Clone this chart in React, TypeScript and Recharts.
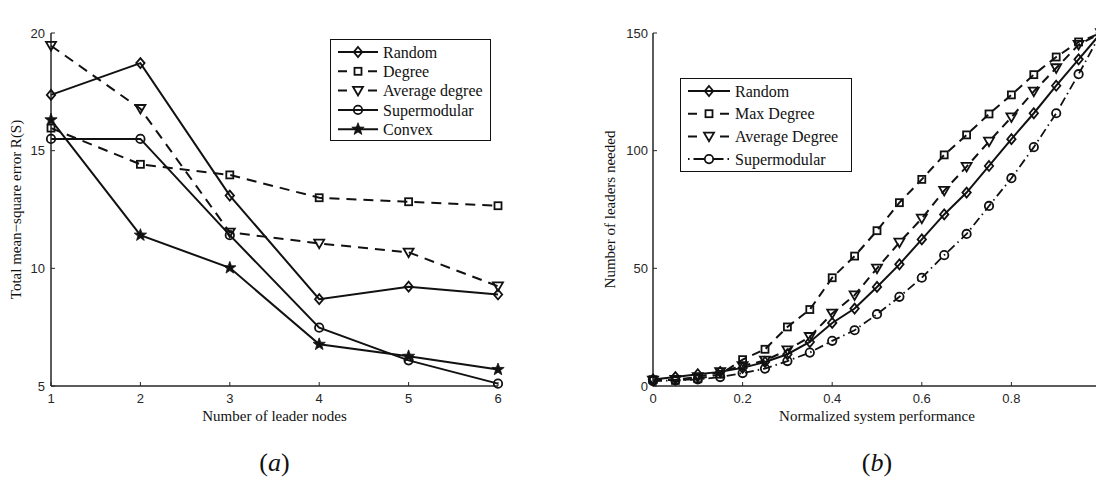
import { LineChart, Line, XAxis, YAxis, Legend, Label } from 'recharts';

// ---- (a) mean-square error vs number of leaders ----
const leaderNodes = [1, 2, 3, 4, 5, 6];
const randomErr = [17.37, 18.72, 13.09, 8.69, 9.22, 8.89];
const degreeErr = [15.96, 14.42, 13.97, 13.0, 12.83, 12.66];
const avgDegreeErr = [19.46, 16.78, 11.53, 11.06, 10.68, 9.24];
const supermodularErr = [15.5, 15.5, 11.41, 7.48, 6.09, 5.1];
const convexErr = [16.31, 11.41, 10.02, 6.77, 6.26, 5.7];
const errTicks = [5, 10, 15, 20];

// ---- (b) leaders needed vs normalized performance ----
const performance = [
  0, 0.05, 0.1, 0.15, 0.2, 0.25, 0.3, 0.35, 0.4, 0.45, 0.5, 0.55, 0.6, 0.65, 0.7, 0.75, 0.8, 0.85,
  0.9, 0.95, 1,
];
const randomLeaders = [
  2.8, 3.8, 5, 6, 7.7, 10.2, 13.5, 18.7, 26.8, 32.9, 42.1, 51.7, 62.3, 72.9, 82.2, 93.5, 104.9,
  115.9, 127.6, 138.8, 150,
];
const maxDegreeLeaders = [
  2.7, 2.4, 3.1, 5, 11.2, 15.6, 25.1, 32.5, 46, 55.2, 66, 77.9, 87.8, 98.2, 106.7, 115.6, 123.7,
  132.3, 139.8, 146.2, 150,
];
const avgDegreeLeaders = [
  2.4, 2.7, 3.8, 6, 8.5, 10.9, 15.2, 20.9, 30.8, 38.6, 50, 61, 71.2, 83, 93.2, 103.9, 114.2, 125.2,
  135.1, 145, 150,
];
const supermodularLeaders = [
  2.1, 2.4, 2.8, 3.8, 5.5, 7.4, 10.6, 14.2, 19.2, 23.7, 30.5, 37.9, 46, 55.6, 64.6, 76.5, 88.3,
  101.5, 115.9, 132.5, 150,
];
// the "1" label sits past the cropped right edge in the original, so only the tick mark is kept
const perfTickLabels = [0, 0.2, 0.4, 0.6, 0.8];
const perfTicks = [0, 0.2, 0.4, 0.6, 0.8, 1];
const leaderTicks = [0, 50, 100, 150];

const SERIF = '"Liberation Serif", "DejaVu Serif", serif';
const SANS = '"Liberation Sans", Arial, sans-serif';
const INK = '#111';
const AXIS = '#262626';

type Shape = 'diamond' | 'square' | 'triangle' | 'circle' | 'star';

const starPath = (cx: number, cy: number, ro: number, ri: number) => {
  let d = '';
  for (let k = 0; k < 10; k++) {
    const r = k % 2 === 0 ? ro : ri;
    const a = -Math.PI / 2 + (k * Math.PI) / 5;
    d += (k === 0 ? 'M' : 'L') + (cx + r * Math.cos(a)).toFixed(2) + ',' + (cy + r * Math.sin(a)).toFixed(2);
  }
  return d + 'Z';
};

const Marker = ({ cx, cy, shape }: { cx?: number; cy?: number; shape: Shape }) => {
  if (cx == null || cy == null) return null;
  const open = { fill: 'none', stroke: INK, strokeWidth: 1.8, strokeDasharray: 'none' };
  switch (shape) {
    case 'diamond':
      return <path d={`M${cx},${cy - 5}L${cx + 4.2},${cy}L${cx},${cy + 5}L${cx - 4.2},${cy}Z`} {...open} />;
    case 'square':
      return <rect x={cx - 3.5} y={cy - 3.5} width={7} height={7} {...open} />;
    case 'triangle':
      return <path d={`M${cx - 5},${cy - 3.8}L${cx + 5},${cy - 3.8}L${cx},${cy + 4.8}Z`} {...open} />;
    case 'circle':
      return <circle cx={cx} cy={cy} r={4.2} {...open} />;
    default:
      return <path d={starPath(cx, cy, 6.5, 2.7)} fill={INK} stroke={INK} strokeWidth={0.8} />;
  }
};

const dotOf = (shape: Shape) => (p: any) => <Marker key={`${shape}-${p.index}`} cx={p.cx} cy={p.cy} shape={shape} />;

type Entry = { label: string; shape: Shape; dash?: string };

const leftLegend: Entry[] = [
  { label: 'Random', shape: 'diamond' },
  { label: 'Degree', shape: 'square', dash: '9 21' },
  { label: 'Average degree', shape: 'triangle', dash: '9 21' },
  { label: 'Supermodular', shape: 'circle' },
  { label: 'Convex', shape: 'star' },
];

const rightLegend: Entry[] = [
  { label: 'Random', shape: 'diamond' },
  { label: 'Max Degree', shape: 'square', dash: '9 23' },
  { label: 'Average Degree', shape: 'triangle', dash: '9 23' },
  { label: 'Supermodular', shape: 'circle', dash: '1.5 4 10.5 9 10.5 4 1.5' },
];

const LegendBox = ({
  items,
  width,
  height,
  rowGap,
  lineEnd,
}: {
  items: Entry[];
  width: number;
  height: number;
  rowGap: number;
  lineEnd: number;
}) => (
  <div style={{ width, height, border: `1.5px solid ${INK}`, background: '#fff', boxSizing: 'border-box' }}>
    <svg width={width - 3} height={height - 3} style={{ display: 'block' }}>
      {items.map((it, i) => {
        const y = 12 + i * rowGap;
        const mid = (7 + lineEnd) / 2;
        return (
          <g key={it.label}>
            <line x1={7} x2={lineEnd} y1={y} y2={y} stroke={INK} strokeWidth={2} strokeDasharray={it.dash} />
            <Marker cx={mid} cy={y} shape={it.shape} />
            <text x={lineEnd + 5} y={y} dy="0.35em" fontFamily={SERIF} fontSize={16} fill={INK}>
              {it.label}
            </text>
          </g>
        );
      })}
    </svg>
  </div>
);

const tickStyle = { fontSize: 13, fill: AXIS, fontFamily: SANS };
const blank = () => '';

const PanelTag = ({ viewBox, tag }: any) => {
  const x = viewBox.x + viewBox.width / 2;
  const y = viewBox.y + viewBox.height + 55;
  return (
    <text x={x} y={y} textAnchor="middle" fontFamily={SERIF} fontSize={26} fill={INK}>
      <tspan>(</tspan>
      <tspan fontStyle="italic">{tag}</tspan>
      <tspan>)</tspan>
    </text>
  );
};

const ErrorChart = () => {
  const data = leaderNodes.map((n, i) => ({
    n,
    random: randomErr[i],
    degree: degreeErr[i],
    avgDegree: avgDegreeErr[i],
    supermodular: supermodularErr[i],
    convex: convexErr[i],
  }));

  return (
    <LineChart width={548} height={495} data={data} margin={{ top: 33, right: 50, bottom: 79, left: 11 }}>
      <XAxis
        dataKey="n"
        type="number"
        domain={[1, 6]}
        ticks={leaderNodes}
        interval={0}
        height={30}
        tick={tickStyle}
        tickSize={-4}
        tickMargin={12}
        axisLine={{ stroke: AXIS, strokeWidth: 1.5 }}
        tickLine={{ stroke: AXIS }}
      >
        <Label value="Number of leader nodes" position="bottom" offset={-6} fontFamily={SERIF} fontSize={15} fill={INK} />
        <Label content={(p: any) => <PanelTag {...p} tag="a" />} />
      </XAxis>
      <XAxis
        xAxisId="top"
        orientation="top"
        dataKey="n"
        type="number"
        domain={[1, 6]}
        ticks={leaderNodes}
        interval={0}
        height={0}
        tickSize={-4}
        tickFormatter={blank}
        axisLine={{ stroke: AXIS, strokeWidth: 1.5 }}
        tickLine={{ stroke: AXIS }}
      >
        <Label
          value="R(S) for different leader selection schemes, proportional error"
          position="top"
          offset={12}
          fontFamily={SERIF}
          fontSize={14}
          fill={INK}
        />
      </XAxis>
      <YAxis
        domain={[5, 20]}
        ticks={errTicks}
        interval={0}
        width={40}
        tick={tickStyle}
        tickSize={-4}
        tickMargin={10}
        axisLine={{ stroke: AXIS, strokeWidth: 1.5 }}
        tickLine={{ stroke: AXIS }}
      >
        <Label
          value={'Total mean\u2212square error R(S)'}
          angle={-90}
          position="insideLeft"
          offset={5}
          style={{ textAnchor: 'middle' }}
          fontFamily={SERIF}
          fontSize={15}
          fill={INK}
        />
      </YAxis>
      <YAxis
        yAxisId="right"
        orientation="right"
        domain={[5, 20]}
        ticks={errTicks}
        interval={0}
        width={0}
        tickSize={-4}
        tickFormatter={blank}
        axisLine={{ stroke: AXIS, strokeWidth: 1.5 }}
        tickLine={{ stroke: AXIS }}
      />
      <Legend
        layout="vertical"
        align="center"
        verticalAlign="middle"
        wrapperStyle={{ left: 330, top: 39, width: 161, height: 102 }}
        content={() => <LegendBox items={leftLegend} width={161} height={102} rowGap={19.3} lineEnd={47} />}
      />
      <Line dataKey="random" stroke={INK} strokeWidth={2} dot={dotOf('diamond')} isAnimationActive={false} />
      <Line dataKey="degree" stroke={INK} strokeWidth={2} strokeDasharray="10 7" dot={dotOf('square')} isAnimationActive={false} />
      <Line dataKey="avgDegree" stroke={INK} strokeWidth={2} strokeDasharray="10 7" dot={dotOf('triangle')} isAnimationActive={false} />
      <Line dataKey="supermodular" stroke={INK} strokeWidth={2} dot={dotOf('circle')} isAnimationActive={false} />
      <Line dataKey="convex" stroke={INK} strokeWidth={2} dot={dotOf('star')} isAnimationActive={false} />
    </LineChart>
  );
};

const LeadersChart = () => {
  const data = performance.map((p, i) => ({
    p,
    random: randomLeaders[i],
    maxDegree: maxDegreeLeaders[i],
    avgDegree: avgDegreeLeaders[i],
    supermodular: supermodularLeaders[i],
  }));

  return (
    <LineChart width={560} height={495} data={data} margin={{ top: 33, right: 7, bottom: 79, left: 60 }}>
      <XAxis
        dataKey="p"
        type="number"
        domain={[0, 1]}
        ticks={perfTickLabels}
        interval={0}
        height={30}
        tick={tickStyle}
        tickSize={-4}
        tickMargin={12}
        axisLine={{ stroke: AXIS, strokeWidth: 1.5 }}
        tickLine={{ stroke: AXIS }}
      >
        <Label value="Normalized system performance" position="bottom" offset={-6} fontFamily={SERIF} fontSize={15} fill={INK} />
        <Label content={(p: any) => <PanelTag {...p} tag="b" />} />
      </XAxis>
      <XAxis
        xAxisId="top"
        orientation="top"
        dataKey="p"
        type="number"
        domain={[0, 1]}
        ticks={perfTicks}
        interval={0}
        height={0}
        tickSize={-4}
        tickFormatter={blank}
        axisLine={{ stroke: AXIS, strokeWidth: 1.5 }}
        tickLine={{ stroke: AXIS }}
      >
        <Label
          value="Number of leaders needed for different error levels"
          position="top"
          offset={12}
          fontFamily={SERIF}
          fontSize={14}
          fill={INK}
        />
      </XAxis>
      <YAxis
        domain={[0, 150]}
        ticks={leaderTicks}
        interval={0}
        width={45}
        tick={tickStyle}
        tickSize={-4}
        tickMargin={9}
        axisLine={{ stroke: AXIS, strokeWidth: 1.5 }}
        tickLine={{ stroke: AXIS }}
      >
        <Label
          value="Number of leaders needed"
          angle={-90}
          position="insideLeft"
          offset={2}
          style={{ textAnchor: 'middle' }}
          fontFamily={SERIF}
          fontSize={15}
          fill={INK}
        />
      </YAxis>
      <YAxis
        yAxisId="right"
        orientation="right"
        domain={[0, 150]}
        ticks={leaderTicks}
        interval={0}
        width={0}
        tickSize={-4}
        tickFormatter={blank}
        axisLine={{ stroke: AXIS, strokeWidth: 1.5 }}
        tickLine={{ stroke: AXIS }}
      />
      <Legend
        layout="vertical"
        align="center"
        verticalAlign="middle"
        wrapperStyle={{ left: 132, top: 78, width: 172, height: 94 }}
        content={() => <LegendBox items={rightLegend} width={172} height={94} rowGap={22.7} lineEnd={49} />}
      />
      <Line dataKey="supermodular" stroke={INK} strokeWidth={1.8} strokeDasharray="9 4 1.5 4" dot={dotOf('circle')} isAnimationActive={false} />
      <Line dataKey="maxDegree" stroke={INK} strokeWidth={2} strokeDasharray="9 6" dot={dotOf('square')} isAnimationActive={false} />
      <Line dataKey="avgDegree" stroke={INK} strokeWidth={2} strokeDasharray="9 6" dot={dotOf('triangle')} isAnimationActive={false} />
      <Line dataKey="random" stroke={INK} strokeWidth={2} dot={dotOf('diamond')} isAnimationActive={false} />
    </LineChart>
  );
};

export default function App() {
  return (
    <div
      style={{
        position: 'absolute',
        left: 0,
        top: 0,
        width: 1096,
        height: 495,
        background: '#fff',
        overflow: 'hidden',
      }}
    >
      <div style={{ position: 'absolute', left: 0, top: 0 }}>
        <ErrorChart />
      </div>
      <div style={{ position: 'absolute', left: 548, top: 0 }}>
        <LeadersChart />
      </div>
    </div>
  );
}
